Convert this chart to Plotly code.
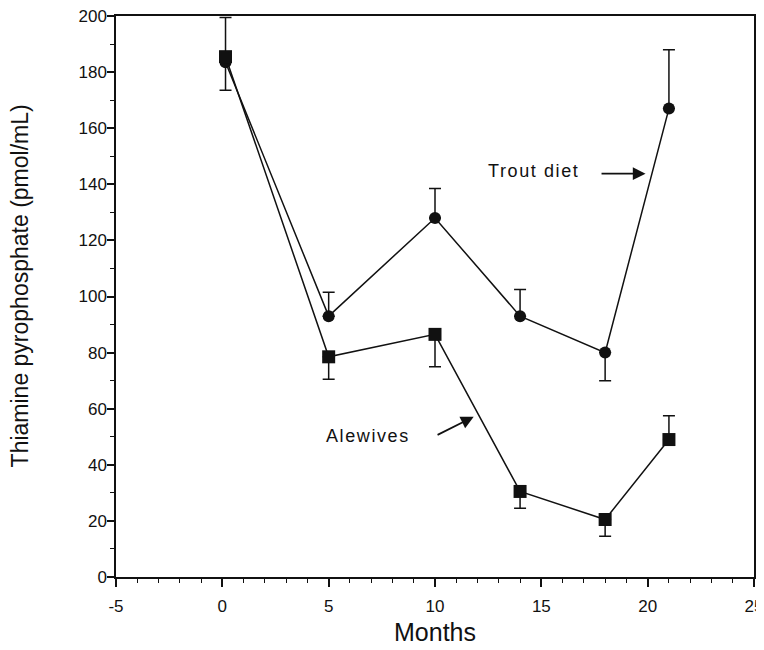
import plotly.graph_objects as go

# ---- data ----
months = [0.15, 5, 10, 14, 18, 21]
trout = [183.5, 93, 128, 93, 80, 167]
trout_err_up = [16, 8.5, 10.5, 9.5, 0, 21]
trout_err_down = [0, 0, 0, 0, 10, 0]
alewives = [185.5, 78.5, 86.5, 30.5, 20.5, 49]
alewives_err_up = [0, 0, 0, 0, 0, 8.5]
alewives_err_down = [12, 8, 11.5, 6, 6, 0]

x_ticks = [-5, 0, 5, 10, 15, 20, 25]
y_ticks = [0, 20, 40, 60, 80, 100, 120, 140, 160, 180, 200]

FONT = "Liberation Sans, Arial, sans-serif"
INK = "#111111"

fig = go.Figure()

fig.add_trace(go.Scatter(
    x=months, y=trout, mode="lines+markers", name="Trout diet",
    line=dict(color=INK, width=1.5),
    marker=dict(symbol="circle", size=12, color=INK),
    error_y=dict(type="data", symmetric=False, array=trout_err_up,
                 arrayminus=trout_err_down, color=INK, thickness=1.5, width=6),
))
fig.add_trace(go.Scatter(
    x=months, y=alewives, mode="lines+markers", name="Alewives",
    line=dict(color=INK, width=1.5),
    marker=dict(symbol="square", size=13, color=INK),
    error_y=dict(type="data", symmetric=False, array=alewives_err_up,
                 arrayminus=alewives_err_down, color=INK, thickness=1.5, width=6),
))

ann_font = dict(family=FONT, size=18, color=INK)
fig.add_annotation(x=14.63, y=144.6, xref="x", yref="y", showarrow=False,
                   text='<span style="letter-spacing:1.6px">Trout diet</span>', font=ann_font)
fig.add_annotation(x=19.9, y=143.8, ax=17.76, ay=143.8, xref="x", yref="y",
                   axref="x", ayref="y", text="", showarrow=True,
                   arrowhead=2, arrowsize=1.5, arrowwidth=1.7, arrowcolor=INK)
fig.add_annotation(x=6.87, y=50.4, xref="x", yref="y", showarrow=False,
                   text='<span style="letter-spacing:1.6px">Alewives</span>', font=ann_font)
fig.add_annotation(x=11.82, y=57.1, ax=10.05, ay=50.4, xref="x", yref="y",
                   axref="x", ayref="y", text="", showarrow=True,
                   arrowhead=2, arrowsize=1.5, arrowwidth=1.7, arrowcolor=INK)

# y-axis title (placed slightly above the axis centre, as in the reference)
fig.add_annotation(x=0, y=0.518, xref="paper", yref="paper", xanchor="center",
                   yanchor="middle", xshift=-96, textangle=-90, showarrow=False,
                   text="Thiamine pyrophosphate (pmol/mL)",
                   font=dict(family=FONT, size=23, color=INK))

# the page body adds an 8px margin, so the figure is 8px smaller on each side
fig.update_layout(
    width=756, height=642,
    margin=dict(l=108, r=10, t=8, b=73, autoexpand=False),
    paper_bgcolor="white", plot_bgcolor="white",
    showlegend=False,
    font=dict(family=FONT, color=INK),
)
fig.update_xaxes(
    range=[-5, 25], tickvals=x_ticks, ticktext=[str(v) for v in x_ticks],
    showgrid=False, zeroline=False,
    showline=True, linecolor=INK, linewidth=1.5, mirror=True,
    ticks="outside", ticklen=8, tickwidth=1.5, tickcolor=INK,
    minor=dict(dtick=1, ticks="outside", ticklen=4, tickwidth=1.2, tickcolor=INK),
    tickfont=dict(family=FONT, size=17, color=INK),
    ticklabelstandoff=5,
    ticklabeloverflow="allow",
    title=dict(text="Months", font=dict(family=FONT, size=25, color=INK), standoff=8),
)
fig.update_yaxes(
    range=[0, 200], tickvals=y_ticks, ticktext=[str(v) for v in y_ticks],
    showgrid=False, zeroline=False,
    showline=True, linecolor=INK, linewidth=1.5, mirror=True,
    ticks="outside", ticklen=7, tickwidth=1.5, tickcolor=INK,
    minor=dict(dtick=10, ticks="outside", ticklen=4, tickwidth=1.2, tickcolor=INK),
    tickfont=dict(family=FONT, size=17, color=INK),
    ticklabelstandoff=-3,
    ticklabeloverflow="allow",
)

fig.write_html("out.html")
